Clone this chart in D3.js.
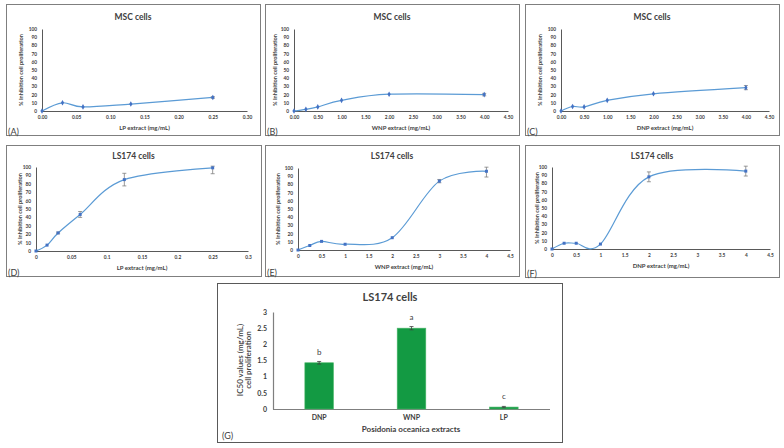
<!DOCTYPE html>
<html>
<head>
<meta charset="utf-8">
<script src="https://cdn.jsdelivr.net/npm/d3@7"></script>
<style>
  body { margin: 0; background: #fff; }
  svg text { font-family: Lato, "Open Sans", sans-serif; fill: #404040; }
</style>
</head>
<body>
<svg id="fig" width="784" height="448"></svg>
<script>
// ---- data ----
var msc_lp_x = [0, 0.03, 0.06, 0.13, 0.25];
var msc_lp_y = [0, 10, 5, 8.5, 16.5];
var msc_lp_err = [0, 0.5, 0.5, 0.5, 1];

var msc_wnp_x = [0, 0.25, 0.5, 1, 2, 4];
var msc_wnp_y = [0, 2, 5, 13, 20.5, 20];
var msc_wnp_err = [0, 0, 0.3, 0.5, 0.5, 1.5];

var msc_dnp_x = [0, 0.25, 0.5, 1, 2, 4];
var msc_dnp_y = [0, 5.5, 5, 13, 21, 28.5];
var msc_dnp_err = [0, 0.5, 0.5, 0.5, 0.5, 2.5];

var ls_lp_x = [0, 0.015625, 0.03125, 0.0625, 0.125, 0.25];
var ls_lp_y = [0, 7, 21.5, 43.5, 85, 99];
var ls_lp_err = [0, 0.5, 1, 3.5, 7.5, 7];

var ls_wnp_x = [0, 0.25, 0.5, 1, 2, 3, 4];
var ls_wnp_y = [0, 5.5, 10.5, 7, 15, 84, 96];
var ls_wnp_err = [0, 0.5, 0.5, 0.5, 0.5, 2, 7];

var ls_dnp_x = [0, 0.25, 0.5, 1, 2, 4];
var ls_dnp_y = [0, 7, 7, 6, 88, 95];
var ls_dnp_err = [0, 0.5, 0.5, 0.5, 6, 6];

var yTicks = [0, 10, 20, 30, 40, 50, 60, 70, 80, 90, 100];
var xTicksLP1 = [0, 0.05, 0.1, 0.15, 0.2, 0.25, 0.3];
var xTicksN = [0, 0.5, 1, 1.5, 2, 2.5, 3, 3.5, 4, 4.5];

var ic50_cat = ["DNP", "WNP", "LP"];
var ic50_val = [1.43, 2.5, 0.06];
var ic50_err = [0.04, 0.05, 0.02];
var ic50_letter = ["b", "a", "c"];
var ic50_ticks = [0, 0.5, 1, 1.5, 2, 2.5, 3];

var svg = d3.select("#fig");
var lineCol = "#5b9bd5", markCol = "#4472c4", axisCol = "#595959";

var panels = [
  {tag: "(A)", title: "MSC cells", xt: "LP extract (mg/mL)", xs: msc_lp_x, ys: msc_lp_y, es: msc_lp_err,
   box: [6, 4, 260, 135], px: [42, 247], py: [111, 29], xmax: 0.3, ticks: xTicksLP1, fmt: d3.format(".2f"), titleY: 17, yl: 20},
  {tag: "(B)", title: "MSC cells", xt: "WNP extract (mg/mL)", xs: msc_wnp_x, ys: msc_wnp_y, es: msc_wnp_err,
   box: [265, 4, 519, 135], px: [294, 508], py: [111, 29], xmax: 4.5, ticks: xTicksN, fmt: d3.format(".2f"), titleY: 17, yl: 274},
  {tag: "(C)", title: "MSC cells", xt: "DNP extract (mg/mL)", xs: msc_dnp_x, ys: msc_dnp_y, es: msc_dnp_err,
   box: [525, 4, 779, 135], px: [561, 769], py: [111, 29], xmax: 4.5, ticks: xTicksN, fmt: d3.format(".2f"), titleY: 17, yl: 539},
  {tag: "(D)", title: "LS174 cells", xt: "LP extract (mg/mL)", xs: ls_lp_x, ys: ls_lp_y, es: ls_lp_err,
   box: [6, 145, 261, 276], px: [36, 248], py: [251, 167], xmax: 0.3, ticks: xTicksLP1, fmt: d3.format(""), titleY: 156, yl: 19},
  {tag: "(E)", title: "LS174 cells", xt: "WNP extract (mg/mL)", xs: ls_wnp_x, ys: ls_wnp_y, es: ls_wnp_err,
   box: [265, 145, 519, 276], px: [298, 510], py: [250, 168], xmax: 4.5, ticks: xTicksN, fmt: d3.format(""), titleY: 156, yl: 277},
  {tag: "(F)", title: "LS174 cells", xt: "DNP extract (mg/mL)", xs: ls_dnp_x, ys: ls_dnp_y, es: ls_dnp_err,
   box: [525, 145, 779, 277], px: [552, 770], py: [249, 167], xmax: 4.5, ticks: xTicksN, fmt: d3.format(""), titleY: 156, yl: 536}
];

panels.forEach(drawPanel);

function drawPanel(p) {
  var g = svg.append("g");
  g.append("rect")
    .attr("x", p.box[0] + 0.5).attr("y", p.box[1] + 0.5)
    .attr("width", p.box[2] - p.box[0]).attr("height", p.box[3] - p.box[1])
    .attr("fill", "none").attr("stroke", "#7f7f7f");

  var x = d3.scaleLinear().domain([0, p.xmax]).range(p.px);
  var y = d3.scaleLinear().domain([0, 100]).range(p.py);

  g.append("text").attr("x", (p.box[0] + p.box[2]) / 2).attr("y", p.titleY)
    .attr("text-anchor", "middle").attr("dominant-baseline", "central")
    .style("font-size", "8.5px").style("font-weight", "bold").text(p.title);

  var xa = g.append("g").attr("transform", "translate(0," + p.py[0] + ")")
    .call(d3.axisBottom(x).tickValues(p.ticks).tickFormat(p.fmt).tickSize(0).tickPadding(5));
  var ya = g.append("g").attr("transform", "translate(" + p.px[0] + ",0)")
    .call(d3.axisLeft(y).tickValues(yTicks).tickSize(0).tickPadding(5));
  [xa, ya].forEach(function(a) {
    a.select(".domain").attr("stroke", axisCol).attr("stroke-width", 1);
    a.selectAll("text").style("font-size", "4.8px").style("font-weight", "bold")
      .style("font-family", "Lato, sans-serif").attr("fill", "#404040");
  });

  g.append("text").attr("x", (p.px[0] + p.px[1]) / 2).attr("y", p.py[0] + 16)
    .attr("text-anchor", "middle").attr("dominant-baseline", "central")
    .style("font-size", "6px").style("font-weight", "bold").text(p.xt);

  g.append("text")
    .attr("transform", "translate(" + p.yl + "," + (p.py[0] + p.py[1]) / 2 + ") rotate(-90)")
    .attr("text-anchor", "middle").attr("dominant-baseline", "central")
    .style("font-size", "5.6px").style("font-weight", "bold").text("% Inhibition cell proliferation");

  g.append("text").attr("x", p.box[0] + 2).attr("y", p.box[3] - 4)
    .attr("dominant-baseline", "central")
    .style("font-size", "9px").text(p.tag);

  var pts = p.xs.map(function(v, i) { return {x: v, y: p.ys[i], e: p.es[i]}; });

  // excel-like smoothed line
  var line = d3.line()
    .x(function(d) { return x(d.x); })
    .y(function(d) { return y(d.y); })
    .curve(d3.curveCatmullRom.alpha(0));

  g.append("path").datum(pts).attr("d", line)
    .attr("fill", "none").attr("stroke", lineCol).attr("stroke-width", 1.2);

  // error bars
  var eb = g.selectAll(".eb").data(pts.filter(function(d) { return d.e > 0.8; })).enter().append("g");
  eb.append("line")
    .attr("x1", function(d) { return x(d.x); }).attr("x2", function(d) { return x(d.x); })
    .attr("y1", function(d) { return y(Math.min(101, d.y + d.e)); })
    .attr("y2", function(d) { return y(d.y - d.e); })
    .attr("stroke", "#7f7f7f").attr("stroke-width", 0.8);
  [1, -1].forEach(function(s) {
    eb.append("line")
      .attr("x1", function(d) { return x(d.x) - 2; }).attr("x2", function(d) { return x(d.x) + 2; })
      .attr("y1", function(d) { return y(s > 0 ? Math.min(101, d.y + d.e) : d.y - d.e); })
      .attr("y2", function(d) { return y(s > 0 ? Math.min(101, d.y + d.e) : d.y - d.e); })
      .attr("stroke", "#7f7f7f").attr("stroke-width", 0.8);
  });

  g.selectAll(".pt").data(pts).enter().append("path")
    .attr("d", d3.symbol().type(p.tag < "(D)" ? d3.symbolDiamond : d3.symbolSquare).size(9))
    .attr("transform", function(d) { return "translate(" + x(d.x) + "," + y(d.y) + ")"; })
    .attr("fill", markCol);
}

// ---- panel G: IC50 bars ----
(function() {
  var g = svg.append("g");
  g.append("rect").attr("x", 217.5).attr("y", 283.5).attr("width", 345).attr("height", 159)
    .attr("fill", "none").attr("stroke", "#595959");

  var x = d3.scaleBand().domain(ic50_cat).range([273, 550]).paddingInner(0.69).paddingOuter(0.345);
  var y = d3.scaleLinear().domain([0, 3]).range([409, 312]);

  g.append("text").attr("x", 390).attr("y", 296).attr("text-anchor", "middle")
    .attr("dominant-baseline", "central").style("font-size", "11px").style("font-weight", "bold")
    .attr("fill", "#262626").text("LS174 cells");

  var ya = g.append("g").attr("transform", "translate(273,0)")
    .call(d3.axisLeft(y).tickValues(ic50_ticks).tickFormat(d3.format("")).tickSize(0).tickPadding(6));
  var xa = g.append("g").attr("transform", "translate(0,409)")
    .call(d3.axisBottom(x).tickSize(0).tickPadding(6));
  xa.select(".domain").attr("d", "M273,0.5H550");
  [xa, ya].forEach(function(a) {
    a.select(".domain").attr("stroke", "#7f7f7f").attr("stroke-width", 1.2);
    a.selectAll("text").style("font-size", "7px").style("font-weight", "bold")
      .style("font-family", "Lato, sans-serif").attr("fill", "#262626");
  });

  var bars = ic50_cat.map(function(c, i) { return {c: c, v: ic50_val[i], e: ic50_err[i], l: ic50_letter[i]}; });

  g.selectAll(".bar").data(bars).enter().append("rect")
    .attr("x", function(d) { return x(d.c); }).attr("width", x.bandwidth())
    .attr("y", function(d) { return y(d.v); }).attr("height", function(d) { return 409 - y(d.v); })
    .attr("fill", "#139a43").attr("stroke", "#4cb86a").attr("stroke-width", 0.6);

  var eb = g.selectAll(".eb").data(bars).enter().append("g")
    .attr("transform", function(d) { return "translate(" + (x(d.c) + x.bandwidth() / 2) + ",0)"; });
  eb.append("line").attr("y1", function(d) { return y(d.v + d.e); }).attr("y2", function(d) { return y(d.v - d.e); })
    .attr("stroke", "#404040").attr("stroke-width", 0.8);
  eb.append("line").attr("x1", -2).attr("x2", 2)
    .attr("y1", function(d) { return y(d.v + d.e); }).attr("y2", function(d) { return y(d.v + d.e); })
    .attr("stroke", "#404040").attr("stroke-width", 0.8);
  eb.append("line").attr("x1", -2).attr("x2", 2)
    .attr("y1", function(d) { return y(d.v - d.e); }).attr("y2", function(d) { return y(d.v - d.e); })
    .attr("stroke", "#404040").attr("stroke-width", 0.8);

  g.selectAll(".let").data(bars).enter().append("text")
    .attr("x", function(d) { return x(d.c) + x.bandwidth() / 2; })
    .attr("y", function(d) { return y(d.v) - 11; })
    .attr("text-anchor", "middle").attr("dominant-baseline", "central")
    .style("font-size", "8px").text(function(d) { return d.l; });

  g.append("text").attr("x", 411).attr("y", 429).attr("text-anchor", "middle")
    .attr("dominant-baseline", "central").style("font-size", "8px").style("font-weight", "bold")
    .attr("fill", "#262626").text("Posidonia oceanica extracts");

  var yt = g.append("text").attr("transform", "translate(245,360) rotate(-90)")
    .attr("text-anchor", "middle").style("font-size", "8px").style("font-weight", "600")
    .attr("fill", "#262626");
  yt.append("tspan").attr("x", 0).attr("dy", "-0.25em").text("IC50 values (mg/mL)");
  yt.append("tspan").attr("x", 0).attr("dy", "1.05em").text("cell proliferation");

  g.append("text").attr("x", 222).attr("y", 435).attr("dominant-baseline", "central")
    .style("font-size", "9px").text("(G)");
})();
</script>
</body>
</html>
